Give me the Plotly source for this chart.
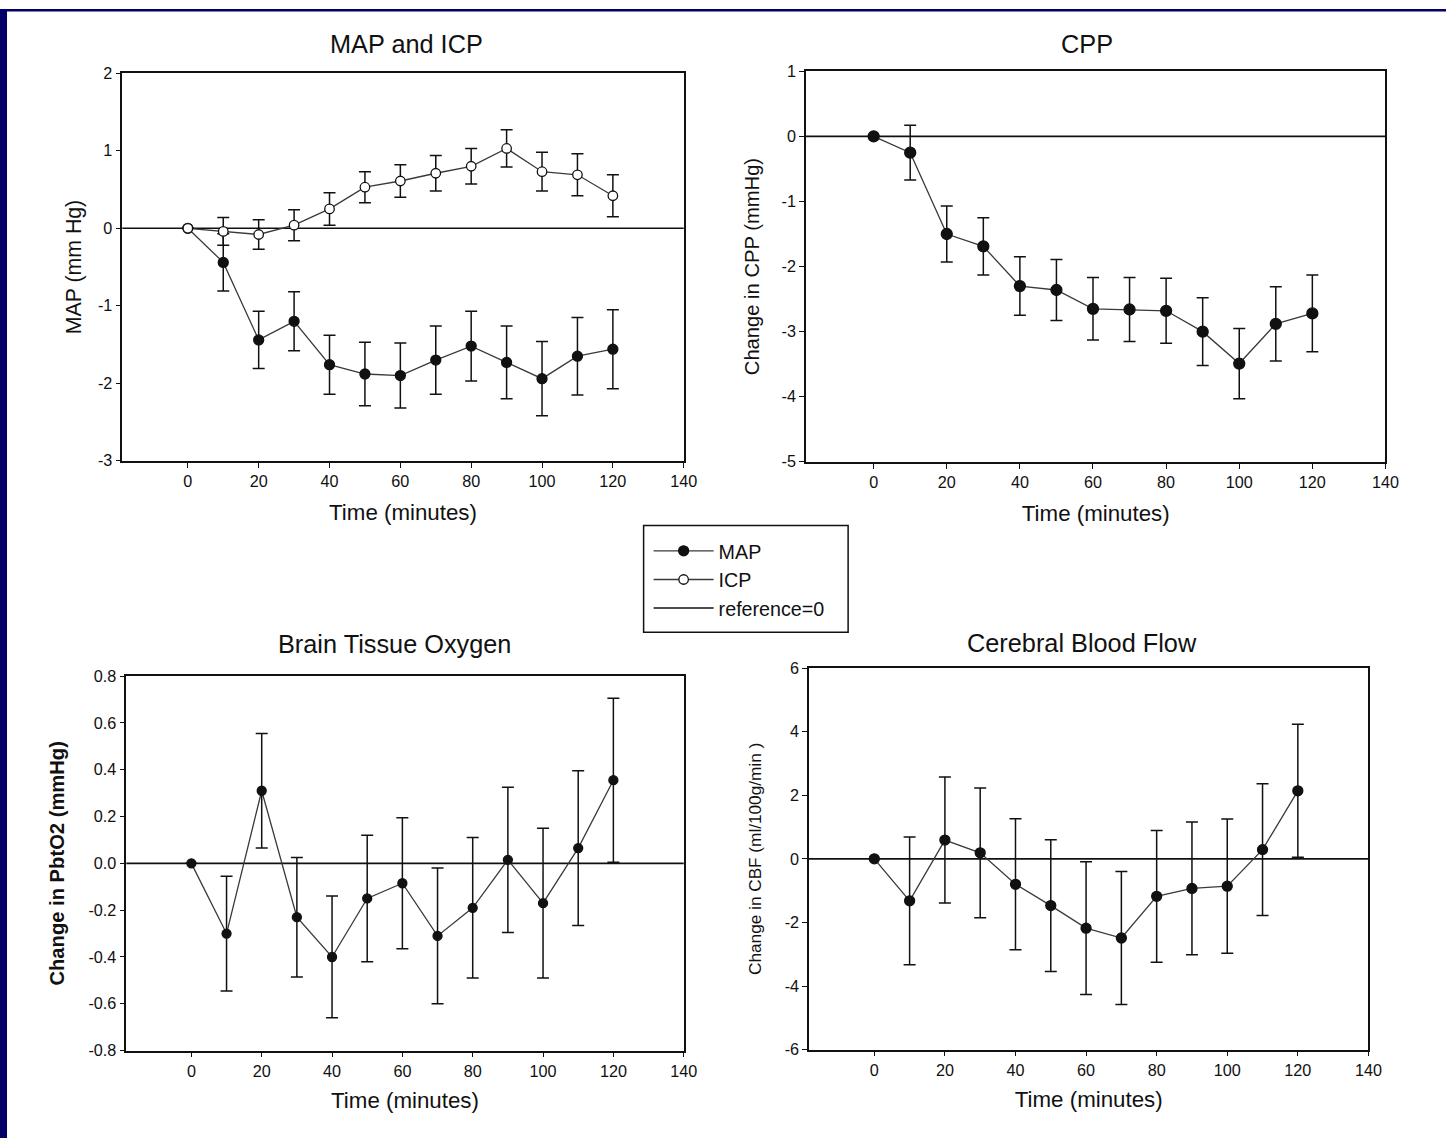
import plotly.graph_objects as go

# ---------------- data ----------------
TIME = [0, 10, 20, 30, 40, 50, 60, 70, 80, 90, 100, 110, 120]

MAP_MEAN = [0, -0.44, -1.44, -1.20, -1.76, -1.88, -1.90, -1.70, -1.52, -1.73, -1.94, -1.65, -1.56]
MAP_ERR = [0, 0.37, 0.37, 0.38, 0.38, 0.41, 0.42, 0.44, 0.45, 0.47, 0.48, 0.50, 0.51]

ICP_MEAN = [0, -0.04, -0.08, 0.04, 0.25, 0.53, 0.61, 0.71, 0.80, 1.03, 0.73, 0.69, 0.42]
ICP_ERR = [0, 0.18, 0.19, 0.20, 0.21, 0.20, 0.21, 0.23, 0.23, 0.24, 0.25, 0.27, 0.27]

CPP_MEAN = [0, -0.25, -1.50, -1.69, -2.30, -2.36, -2.65, -2.66, -2.68, -3.00, -3.49, -2.88, -2.72]
CPP_ERR = [0, 0.42, 0.43, 0.44, 0.45, 0.47, 0.48, 0.49, 0.50, 0.52, 0.54, 0.57, 0.59]

PBTO2_MEAN = [0.0, -0.30, 0.31, -0.23, -0.40, -0.15, -0.085, -0.31, -0.19, 0.015, -0.17, 0.065, 0.355]
PBTO2_ERR = [0, 0.245, 0.245, 0.255, 0.26, 0.27, 0.28, 0.29, 0.30, 0.31, 0.32, 0.33, 0.35]

CBF_MEAN = [0, -1.32, 0.59, 0.19, -0.80, -1.47, -2.18, -2.49, -1.18, -0.93, -0.86, 0.29, 2.14]
CBF_ERR = [0, 2.01, 1.98, 2.04, 2.06, 2.07, 2.09, 2.09, 2.07, 2.09, 2.11, 2.07, 2.09]

X_TICKS = [0, 20, 40, 60, 80, 100, 120, 140]
X_RANGE = [-18.5, 140]

MAP_YTICKS = [-3, -2, -1, 0, 1, 2]
MAP_YLABELS = ["-3", "-2", "-1", "0", "1", "2"]
CPP_YTICKS = [-5, -4, -3, -2, -1, 0, 1]
CPP_YLABELS = ["-5", "-4", "-3", "-2", "-1", "0", "1"]
PBTO2_YTICKS = [-0.8, -0.6, -0.4, -0.2, 0.0, 0.2, 0.4, 0.6, 0.8]
PBTO2_YLABELS = ["-0.8", "-0.6", "-0.4", "-0.2", "0.0", "0.2", "0.4", "0.6", "0.8"]
CBF_YTICKS = [-6, -4, -2, 0, 2, 4, 6]
CBF_YLABELS = ["-6", "-4", "-2", "0", "2", "4", "6"]

PANEL_TITLES = ["MAP and ICP", "CPP", "Brain Tissue Oxygen", "Cerebral Blood Flow"]
Y_TITLES = ["MAP (mm Hg)", "Change in CPP (mmHg)", "Change in PbtO2 (mmHg)", "Change in CBF (ml/100g/min )"]
X_TITLE = "Time (minutes)"

# ---------------- layout geometry ----------------
# target positions are given in picture pixels; the capture maps figure px -> picture px
# as p = S * f + offset, so positions are converted back with fx / fy.
S, OX, OY = 0.988, 1.0, 6.5
W, H = 1470, 1150
FONT = "Liberation Sans, Arial, Helvetica, sans-serif"
INK = "#111111"
LINE_C = "#3a3a3a"
NAVY = "#000066"


def fx(p):
    return (p - OX) / S


def fy(p):
    return (p - OY) / S


def xd(a, b):
    return [fx(a) / W, fx(b) / W]


def yd(top, bottom):
    return [1 - fy(bottom) / H, 1 - fy(top) / H]


def fs(size):
    return round(size / S, 1)


fig = go.Figure()


def add_series(mean, err, ax, name, filled=True, size=10, show=False):
    ax_suffix = "" if ax == 1 else str(ax)
    fig.add_trace(go.Scatter(
        x=TIME, y=mean,
        mode="lines+markers",
        name=name,
        showlegend=show,
        xaxis="x" + ax_suffix, yaxis="y" + ax_suffix,
        line=dict(color=LINE_C, width=1.3),
        marker=dict(
            size=size,
            color=INK if filled else "white",
            line=dict(color=INK, width=1.3),
            symbol="circle",
        ),
        error_y=dict(type="data", array=err, symmetric=True,
                     color=INK, thickness=1.5, width=6),
    ))


add_series(MAP_MEAN, MAP_ERR, 1, "MAP", True, 10, show=True)
add_series(ICP_MEAN, ICP_ERR, 1, "ICP", False, 9.5, show=True)
add_series(CPP_MEAN, CPP_ERR, 2, "CPP", True, 11)
add_series(PBTO2_MEAN, PBTO2_ERR, 3, "PbtO2", True, 9)
add_series(CBF_MEAN, CBF_ERR, 4, "CBF", True, 10)

# legend-only entry for reference line
fig.add_trace(go.Scatter(x=[None], y=[None], mode="lines", name="reference=0",
                         line=dict(color=INK, width=1.5), showlegend=True))

shapes = []
# reference lines at y = 0
for i in range(1, 5):
    s = "" if i == 1 else str(i)
    shapes.append(dict(type="line", xref="x" + s + " domain", x0=0, x1=1,
                       yref="y" + s, y0=0, y1=0,
                       line=dict(color=INK, width=1.6), layer="below"))
# navy frame strips (left and top)
shapes.append(dict(type="rect", xref="paper", yref="paper", x0=0, x1=fx(8) / W, y0=0, y1=1,
                   fillcolor=NAVY, line=dict(width=0), layer="above"))
shapes.append(dict(type="rect", xref="paper", yref="paper", x0=0, x1=1, y0=1 - fy(9) / H, y1=1,
                   fillcolor=NAVY, line=dict(width=0), layer="above"))
# legend frame
shapes.append(dict(type="rect", xref="paper", yref="paper",
                   x0=fx(643) / W, x1=fx(847) / W, y0=1 - fy(632) / H, y1=1 - fy(525) / H,
                   fillcolor="white", line=dict(color=INK, width=1.5), layer="below"))

domains = [
    (xd(123, 683), yd(71, 460)),
    (xd(805, 1383), yd(69, 461)),
    (xd(127, 683), yd(676, 1052)),
    (xd(808, 1366), yd(668, 1051)),
]
y_ranges = [[-3, 2], [-5, 1], [-0.8, 0.8], [-6, 6]]
y_tickvals = [MAP_YTICKS, CPP_YTICKS, PBTO2_YTICKS, CBF_YTICKS]
y_ticktext = [MAP_YLABELS, CPP_YLABELS, PBTO2_YLABELS, CBF_YLABELS]
y_title_fonts = [
    dict(size=fs(21), family=FONT, color=INK),
    dict(size=fs(20), family=FONT, color=INK),
    dict(size=fs(20), family=FONT, color=INK, weight="bold"),
    dict(size=fs(17), family=FONT, color=INK),
]
y_standoffs = [10, 17, 18, 19]
x_standoffs = [15, 15, 14, 14]

tick_font = dict(size=fs(16), family=FONT, color=INK)
layout_axes = {}
for i in range(4):
    s = "" if i == 0 else str(i + 1)
    anchor = "y" + s
    layout_axes["xaxis" + s] = dict(
        domain=domains[i][0], anchor=anchor, range=X_RANGE,
        tickmode="array", tickvals=X_TICKS, ticktext=[str(v) for v in X_TICKS],
        ticks="outside", ticklen=5, tickwidth=1.3, tickcolor=INK,
        showline=True, linecolor=INK, linewidth=1.5, mirror=True,
        showgrid=False, zeroline=False, tickfont=tick_font,
        title=dict(text=X_TITLE, font=dict(size=fs(22), family=FONT, color=INK),
                   standoff=x_standoffs[i]),
    )
    layout_axes["yaxis" + s] = dict(
        domain=domains[i][1], anchor="x" + s, range=y_ranges[i],
        tickmode="array", tickvals=y_tickvals[i], ticktext=y_ticktext[i],
        ticks="outside", ticklen=5, tickwidth=1.3, tickcolor=INK,
        showline=True, linecolor=INK, linewidth=1.5, mirror=True,
        showgrid=False, zeroline=False, tickfont=tick_font,
        title=dict(text=Y_TITLES[i], font=y_title_fonts[i], standoff=y_standoffs[i]),
    )

title_pos = [(406, 42), (1085, 42), (395, 644), (1080, 643)]
annotations = []
for t, (px, py) in zip(PANEL_TITLES, title_pos):
    annotations.append(dict(text=t, x=fx(px) / W, y=1 - fy(py) / H, xref="paper", yref="paper",
                            xanchor="center", yanchor="middle", showarrow=False,
                            font=dict(size=fs(25), family=FONT, color=INK)))

fig.update_layout(
    width=W, height=H,
    margin=dict(l=0, r=0, t=0, b=0),
    paper_bgcolor="white",
    plot_bgcolor="white",
    showlegend=True,
    legend=dict(
        x=fx(648) / W, y=1 - fy(531) / H, xanchor="left", yanchor="top",
        bgcolor="rgba(0,0,0,0)", borderwidth=0,
        font=dict(size=fs(19.5), family=FONT, color=INK),
        itemwidth=60, tracegroupgap=0,
    ),
    annotations=annotations,
    shapes=shapes,
    **layout_axes,
)

fig.write_html(
    "out.html",
    config={"displayModeBar": False},
    post_script="document.body.style.margin='0';document.body.style.padding='0';"
                "document.body.style.overflow='hidden';"
                "document.documentElement.style.overflow='hidden';"
                "document.body.style.background='" + NAVY + "';"
                "document.documentElement.style.background='" + NAVY + "';",
)
